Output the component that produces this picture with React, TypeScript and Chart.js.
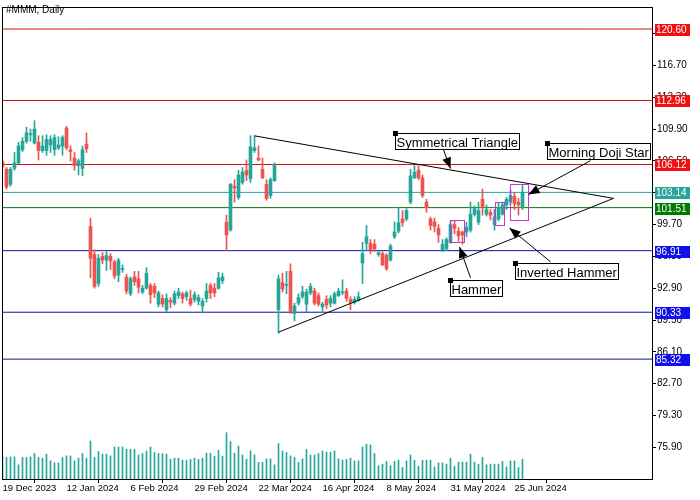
import React, { useEffect, useRef } from "react";
import { Chart, registerables } from "chart.js";
Chart.register(...registerables);

// ---- data (bar index 0 = 19 Dec 2023, daily trading sessions) ----
const opens = [
  106.4, 105.6, 104.0, 105.7, 106.3, 107.7, 108.6, 109.3, 108.4, 108.5,
  107.6, 107.6, 108.2, 107.7, 107.9, 108.1, 110.0, 107.7, 106.8, 106.0,
  105.7, 108.3, 99.5, 96.5, 93.4, 96.3, 95.9, 96.3, 95.7, 94.3,
  94.9, 94.1, 92.3, 94.1, 93.9, 92.5, 92.9, 93.2, 93.1, 91.2,
  91.8, 90.6, 91.6, 91.3, 92.1, 92.3, 92.0, 91.8, 91.7, 91.5,
  91.0, 91.8, 93.2, 92.9, 92.9, 93.7, 99.95, 99.1, 103.8, 102.6,
  104.2, 105.5, 104.6, 107.6, 106.8, 105.6, 104.0, 102.8, 104.4, 90.6,
  93.5, 93.2, 94.7, 90.2, 91.3, 92.0, 91.2, 92.4, 92.6, 92.1,
  90.9, 91.7, 91.3, 91.3, 92.1, 92.4, 92.6, 91.7, 91.4, 91.6,
  95.6, 97.7, 97.7, 97.6, 96.5, 96.6, 96.4, 95.9, 98.4, 99.0,
  100.3, 100.3, 102.1, 104.7, 105.5, 104.7, 102.1, 100.3, 100.0, 99.3,
  97.0, 97.1, 97.8, 99.7, 99.0, 98.9, 98.9, 99.1, 100.8, 99.96,
  102.4, 100.8, 101.0, 99.7, 100.3, 100.8, 101.8, 102.1, 102.7, 102.1,
  101.5,
];
const highs = [
  106.6, 105.8, 105.8, 107.4, 108.5, 109.0, 110.1, 109.9, 110.8, 109.2,
  109.2, 109.3, 109.2, 109.3, 109.1, 109.2, 110.2, 108.1, 107.4, 106.7,
  108.1, 109.5, 100.4, 97.0, 96.5, 96.7, 96.8, 96.6, 95.9, 96.1,
  95.4, 94.4, 94.1, 94.7, 94.7, 93.2, 95.1, 93.4, 93.4, 92.6,
  92.2, 92.3, 91.9, 92.6, 92.9, 92.5, 92.6, 92.7, 92.5, 92.2,
  91.8, 93.4, 93.4, 93.4, 94.6, 94.5, 100.7, 104.1, 104.5, 105.5,
  105.8, 106.6, 109.2, 109.2, 108.1, 106.8, 104.5, 104.7, 106.3, 94.3,
  94.5, 94.7, 95.5, 91.3, 92.3, 93.1, 92.8, 93.4, 92.9, 92.4,
  91.4, 92.1, 92.1, 92.5, 92.9, 93.8, 92.9, 92.0, 92.0, 92.5,
  97.8, 99.6, 98.1, 98.1, 97.0, 96.8, 96.6, 97.6, 100.0, 101.5,
  101.2, 101.4, 105.6, 106.0, 106.0, 105.0, 102.4, 100.5, 100.4, 99.7,
  98.1, 98.3, 100.1, 100.1, 99.4, 99.0, 99.96, 102.1, 101.7, 102.1,
  103.5, 101.8, 101.3, 101.3, 102.0, 102.1, 102.6, 103.4, 103.1, 102.5,
  104.0,
];
const lows = [
  105.7, 103.5, 103.8, 105.5, 106.2, 107.5, 108.4, 108.6, 108.3, 106.6,
  107.4, 107.1, 107.4, 107.1, 107.7, 107.1, 107.7, 106.5, 105.5, 105.0,
  104.9, 107.4, 94.0, 92.9, 93.1, 95.5, 94.8, 94.9, 93.9, 93.6,
  94.6, 92.3, 92.1, 93.2, 92.4, 92.3, 92.8, 91.3, 91.9, 90.9,
  90.9, 90.4, 90.8, 91.1, 91.8, 91.3, 91.6, 91.0, 91.4, 91.1,
  90.3, 91.4, 91.8, 92.0, 92.8, 93.4, 96.9, 99.0, 102.1, 102.4,
  104.0, 104.4, 104.2, 107.4, 106.5, 104.6, 102.3, 102.5, 104.3, 88.1,
  92.5, 92.3, 90.2, 89.4, 91.1, 91.8, 90.4, 92.2, 91.1, 91.0,
  90.3, 90.7, 90.9, 91.2, 92.0, 92.2, 91.5, 90.6, 91.2, 91.5,
  93.4, 96.9, 96.6, 96.8, 96.3, 95.3, 94.8, 95.8, 98.2, 98.8,
  99.5, 100.1, 101.9, 104.6, 104.5, 102.6, 101.0, 99.1, 98.9, 97.8,
  96.8, 96.9, 97.7, 98.7, 97.9, 97.6, 98.4, 98.9, 100.6, 99.7,
  100.7, 100.6, 100.2, 99.1, 100.1, 100.7, 101.3, 101.8, 101.3, 100.7,
  101.3,
];
const closes = [
  105.9, 103.7, 105.6, 106.3, 108.1, 108.6, 109.5, 109.4, 109.9, 107.6,
  108.1, 108.8, 108.8, 109.0, 108.2, 109.0, 107.9, 107.5, 106.0, 106.5,
  107.7, 107.8, 96.1, 93.1, 96.1, 95.9, 96.4, 95.8, 94.2, 95.9,
  95.0, 92.6, 93.9, 93.6, 93.0, 92.9, 94.5, 92.2, 92.4, 92.4,
  91.2, 91.8, 91.4, 92.3, 92.5, 91.8, 92.4, 91.2, 92.2, 91.9,
  91.5, 92.6, 92.4, 92.4, 94.0, 94.1, 98.6, 104.0, 103.6, 105.0,
  105.3, 105.0, 108.0, 107.9, 106.6, 104.7, 102.5, 104.5, 106.1, 93.9,
  92.8, 93.3, 90.4, 91.0, 91.9, 92.5, 92.5, 93.1, 91.3, 91.2,
  91.2, 91.1, 91.8, 92.3, 92.6, 92.5, 91.8, 91.4, 91.7, 92.0,
  96.6, 98.4, 97.0, 97.1, 96.7, 95.4, 95.0, 97.4, 98.9, 99.9,
  99.9, 101.2, 104.9, 105.3, 104.7, 102.8, 101.5, 99.6, 99.5, 98.6,
  97.6, 98.1, 99.7, 99.3, 98.5, 98.6, 99.4, 100.8, 101.4, 101.2,
  101.5, 101.3, 100.7, 100.5, 101.5, 101.8, 102.4, 102.8, 101.9, 101.8,
  103.14,
];
// volume, millions of shares
const volumes = [
  2.2, 2.17, 2.23, 2.23, 1.43, 2.17, 2.17, 2.23, 2.57, 2.17,
  2.1, 2.5, 1.83, 1.63, 1.63, 2.17, 2.33, 2.33, 1.83, 2.1,
  2.57, 2.1, 3.83, 2.17, 2.77, 2.5, 2.5, 2.33, 3.23, 3.23,
  3.23, 3.0, 3.0, 3.0, 2.43, 2.57, 2.83, 3.23, 2.67, 2.57,
  2.57, 2.5, 2.0, 2.1, 2.1, 1.9, 1.9, 1.97, 2.1, 1.97,
  2.1, 2.6, 2.6, 2.3, 2.9, 2.3, 4.67, 3.77, 2.6, 3.33,
  2.43, 2.0, 2.83, 2.43, 1.67, 1.67, 2.03, 2.03, 1.43, 3.57,
  2.83, 2.67, 2.33, 2.17, 1.67, 2.03, 3.0, 2.43, 2.43, 2.57,
  2.83, 2.7, 2.7, 2.83, 2.03, 1.9, 1.97, 2.1, 1.83, 1.83,
  3.23, 3.5, 3.43, 2.57, 1.33, 1.5, 1.77, 1.33, 1.77, 1.9,
  1.17, 1.83, 2.43, 1.9, 1.3, 1.9, 1.9, 1.9, 1.23, 1.63,
  1.63, 1.5, 2.1, 1.3, 1.7, 1.7, 1.7, 2.5, 1.7, 1.5,
  2.17, 1.43, 1.5, 1.5, 1.5, 1.77, 1.23, 1.83, 1.83, 1.17,
  2.0,
];
const dateTickLabels = [
  "19 Dec 2023", "12 Jan 2024", "6 Feb 2024", "29 Feb 2024", "22 Mar 2024",
  "16 Apr 2024", "8 May 2024", "31 May 2024", "25 Jun 2024",
];
const barsPerDateTick = 16;
const priceTicks = [75.9, 79.3, 82.7, 86.1, 89.5, 92.9, 96.3, 99.7, 103.1, 106.5, 109.9, 113.3, 116.7, 120.1];
const levelPrices = [120.6, 112.96, 106.12, 103.14, 101.51, 96.91, 90.33, 85.32];
const levelKinds = ["res", "res", "res", "last", "pivot", "sup", "sup", "sup"];

// symmetrical triangle (bar index, price): upper start, apex, lower start
const triangleIdx = [63, 152.75, 69];
const trianglePrice = [109.18, 102.5, 88.2];

// pattern highlight boxes (bar index range, price range)
const boxIdxFrom = [111.75, 123, 127];
const boxIdxTo = [115.25, 125.25, 131.25];
const boxPriceTop = [100.17, 102.07, 104.08];
const boxPriceBottom = [97.84, 99.64, 100.17];

// text labels with arrows
const noteTexts = ["Symmetrical Triangle", "Morning Doji Star", "Hammer", "Inverted Hammer"];
const noteIdx = [98, 136, 112, 128];
const notePrice = [109.49, 108.43, 93.81, 95.61];
const arrowFromIdx = [110.25, 147, 117, 137];
const arrowFromPrice = [107.69, 106.53, 94.02, 95.72];
const arrowToIdx = [112, 131.5, 114.25, 126.75];
const arrowToPrice = [105.68, 102.92, 97.31, 99.32];

const SYMBOL_TITLE = "#MMM, Daily";

// ---- styles ----
const UP = "#26a69a";
const DOWN = "#ef5350";
const LEVEL_LINE: Record<string, string> = { res: "#d01010", last: "#26a69a", pivot: "#007a00", sup: "#10109a" };
const LEVEL_TAG: Record<string, string> = { res: "#f01010", last: "#26a69a", pivot: "#007a00", sup: "#1010e8" };
const FONT = "'Liberation Sans', Arial, sans-serif";

const overlayPlugin = {
  id: "overlay",
  afterDraw(chart: any) {
    const { ctx, chartArea: a, scales } = chart;
    const xs = scales.x;
    const ys = scales.y;
    const px = (v: number) => xs.getPixelForValue(v);
    const py = (v: number) => ys.getPixelForValue(v);
    ctx.save();
    // frame
    ctx.strokeStyle = "#000";
    ctx.lineWidth = 1;
    ctx.strokeRect(a.left + 0.5, a.top + 0.5, a.right - a.left, a.bottom - a.top);

    // pattern boxes
    ctx.strokeStyle = "#d030d0";
    ctx.lineWidth = 1;
    for (let i = 0; i < boxIdxFrom.length; i++) {
      const x0 = Math.round(px(boxIdxFrom[i])) + 0.5;
      const x1 = Math.round(px(boxIdxTo[i])) + 0.5;
      const y0 = Math.round(py(boxPriceTop[i])) + 0.5;
      const y1 = Math.round(py(boxPriceBottom[i])) + 0.5;
      ctx.strokeRect(x0, y0, x1 - x0, y1 - y0);
    }

    // arrows
    ctx.strokeStyle = "#000";
    ctx.fillStyle = "#000";
    for (let i = 0; i < arrowFromIdx.length; i++) {
      const x0 = px(arrowFromIdx[i]);
      const y0 = py(arrowFromPrice[i]);
      const x1 = px(arrowToIdx[i]);
      const y1 = py(arrowToPrice[i]);
      ctx.beginPath();
      ctx.moveTo(x0, y0);
      ctx.lineTo(x1, y1);
      ctx.stroke();
      const ang = Math.atan2(y1 - y0, x1 - x0);
      const L = 11, W = 4.5;
      ctx.beginPath();
      ctx.moveTo(x1, y1);
      ctx.lineTo(x1 - L * Math.cos(ang) + W * Math.sin(ang), y1 - L * Math.sin(ang) - W * Math.cos(ang));
      ctx.lineTo(x1 - L * Math.cos(ang) - W * Math.sin(ang), y1 - L * Math.sin(ang) + W * Math.cos(ang));
      ctx.closePath();
      ctx.fill();
    }

    // note boxes
    ctx.font = `13px ${FONT}`;
    ctx.textBaseline = "alphabetic";
    for (let i = 0; i < noteTexts.length; i++) {
      const x = Math.round(px(noteIdx[i])) + 0.5;
      const y = Math.round(py(notePrice[i])) + 0.5;
      const w = Math.ceil(ctx.measureText(noteTexts[i]).width) + 2;
      const h = 16;
      ctx.fillStyle = "#fff";
      ctx.fillRect(x, y, w, h);
      ctx.strokeStyle = "#000";
      ctx.strokeRect(x, y, w, h);
      ctx.fillStyle = "#000";
      ctx.fillText(noteTexts[i], x + 1, y + 13);
      ctx.fillRect(x - 2.5, y - 2.5, 5, 5);
    }

    // level tags on the price axis
    ctx.font = `10px ${FONT}`;
    ctx.textBaseline = "middle";
    for (let i = 0; i < levelPrices.length; i++) {
      const y = Math.round(py(levelPrices[i]));
      ctx.fillStyle = LEVEL_TAG[levelKinds[i]];
      ctx.fillRect(a.right + 3, y - 5, 35, 12);
      ctx.fillStyle = "#fff";
      ctx.fillText(levelPrices[i].toFixed(2), a.right + 4, y + 1);
    }

    // title
    ctx.fillStyle = "#000";
    ctx.font = `10px ${FONT}`;
    ctx.textBaseline = "alphabetic";
    ctx.fillText(SYMBOL_TITLE, 6, 13);
    ctx.restore();
  },
};

export default function App() {
  const ref = useRef<HTMLCanvasElement | null>(null);
  useEffect(() => {
    if (!ref.current) return;
    const idx = closes.map((_, i) => i);
    const colors = idx.map((i) => (closes[i] >= opens[i] ? UP : DOWN));

    const levelSets = levelPrices.map((p, k) => ({
      type: "line" as const,
      data: [
        { x: -5, y: p },
        { x: 200, y: p },
      ],
      borderColor: LEVEL_LINE[levelKinds[k]],
      borderWidth: 1,
      pointRadius: 0,
      xAxisID: "x",
      yAxisID: "y",
      order: 10,
    }));

    const chart = new Chart(ref.current, {
      type: "bar",
      data: {
        datasets: [
          {
            type: "bar",
            data: idx.map((i) => ({ x: i, y: volumes[i] })),
            backgroundColor: UP,
            barThickness: 1,
            grouped: false,
            yAxisID: "yVol",
            xAxisID: "x",
            order: 9,
          },
          ...levelSets,
          {
            type: "bar",
            data: idx.map((i) => ({ x: i, y: [lows[i], highs[i]] })),
            backgroundColor: colors,
            barThickness: 1,
            grouped: false,
            yAxisID: "y",
            xAxisID: "x",
            order: 3,
          },
          {
            type: "bar",
            data: idx.map((i) => ({ x: i, y: [opens[i], closes[i]] })),
            backgroundColor: colors,
            barThickness: 3,
            minBarLength: 1,
            grouped: false,
            yAxisID: "y",
            xAxisID: "x",
            order: 2,
          },
          {
            type: "line",
            data: triangleIdx.map((x, k) => ({ x, y: trianglePrice[k] })),
            borderColor: "#000",
            borderWidth: 1,
            pointRadius: 0,
            yAxisID: "y",
            xAxisID: "x",
            order: 0,
          },
        ] as any,
      },
      options: {
        responsive: false,
        animation: false,
        events: [],
        layout: { padding: { left: 2, top: 3, right: 0, bottom: 0 } },
        plugins: { legend: { display: false }, tooltip: { enabled: false } },
        scales: {
          x: {
            type: "linear",
            min: -0.125,
            max: 162.375,
            offset: false,
            afterBuildTicks: (s: any) => {
              s.ticks = dateTickLabels.map((_, k) => ({ value: k * barsPerDateTick }));
            },
            afterFit: (s: any) => {
              s.height = 21;
            },
            grid: { drawOnChartArea: false, drawTicks: true, tickLength: 4, tickColor: "#000" },
            border: { display: true, color: "#000" },
            ticks: {
              autoSkip: false,
              maxRotation: 0,
              align: "start",
              padding: 0,
              color: "#000",
              font: { family: FONT, size: 9.5 },
              callback: (_v: any, i: number) => dateTickLabels[i],
            },
          },
          y: {
            type: "linear",
            position: "right",
            min: 72.51,
            max: 122.95,
            afterBuildTicks: (s: any) => {
              s.ticks = priceTicks.map((v) => ({ value: v }));
            },
            afterFit: (s: any) => {
              s.width = 48;
            },
            grid: { drawOnChartArea: false, drawTicks: true, tickLength: 4, tickColor: "#000" },
            border: { display: true, color: "#000" },
            ticks: {
              padding: 1,
              color: "#000",
              font: { family: FONT, size: 10 },
              callback: (v: any) => Number(v).toFixed(2),
            },
          },
          yVol: {
            type: "linear",
            display: false,
            min: 0,
            max: 47.6,
          },
        },
      },
      plugins: [overlayPlugin],
    } as any);
    return () => chart.destroy();
  }, []);

  return (
    <div style={{ position: "absolute", left: 0, top: 0, width: 700, height: 500, background: "#fff" }}>
      <canvas ref={ref} width={700} height={500} style={{ display: "block" }} />
    </div>
  );
}
